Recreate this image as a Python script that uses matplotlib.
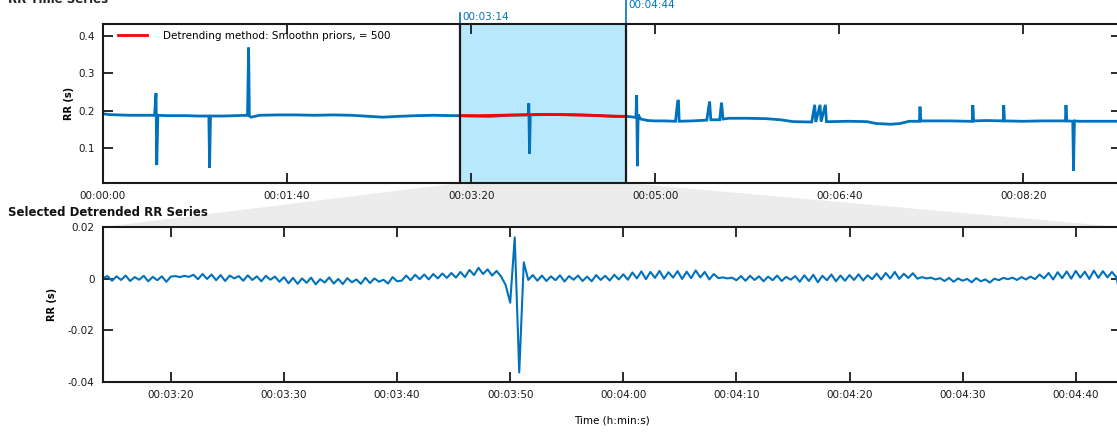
import numpy as np
import matplotlib
matplotlib.use('Agg')
import matplotlib.pyplot as plt
from matplotlib.patches import Polygon
import matplotlib.transforms as mtransforms

plt.rcParams['font.family'] = ['DejaVu Sans']

BLUE = '#0072BD'
AXC = '#1a1a1a'

# ---------------- data ----------------
# full RR series (time s, RR s)
top_t = [0, 3, 8, 15, 22, 28, 28.8, 29.2, 29.8, 35, 45, 52, 57.5, 57.9, 58.4, 65, 72,
         78.5, 79.1, 79.5, 80.5, 85, 95, 105, 115, 125, 135, 145, 152, 160, 170, 180, 190,
         194, 200, 210, 220, 230, 231, 231.3, 231.7, 232.1, 240, 250, 260, 270, 278, 284,
         287, 289.5, 289.9, 290.3, 290.7, 292, 296, 300, 305, 311, 312.2, 312.6, 313, 320,
         328, 329.5, 330.2, 335, 336, 336.8, 340, 350, 360, 368, 375, 385, 386.6, 387.2,
         389.5, 390.1, 392.4, 393, 395, 405, 415, 420, 428, 433, 438, 443.5, 443.8, 444.3,
         450, 460, 470, 472.2, 472.5, 473, 480, 489, 489.3, 489.7, 500, 510, 520, 522.8,
         523.1, 523.6, 526.8, 527.2, 527.7, 530, 540, 553]
top_rr = [0.192, 0.190, 0.189, 0.188, 0.188, 0.188, 0.247, 0.055, 0.188, 0.187, 0.187,
          0.186, 0.186, 0.048, 0.186, 0.186, 0.187, 0.188, 0.369, 0.186, 0.183, 0.188,
          0.189, 0.189, 0.188, 0.189, 0.188, 0.185, 0.183, 0.185, 0.187, 0.188, 0.187,
          0.187, 0.186, 0.185, 0.188, 0.189, 0.190, 0.220, 0.085, 0.189, 0.190, 0.190,
          0.189, 0.187, 0.185, 0.185,
          0.184, 0.182, 0.242, 0.052, 0.190, 0.178, 0.174, 0.173, 0.173, 0.172, 0.226,
          0.226, 0.172, 0.173, 0.175, 0.225, 0.176, 0.176, 0.222, 0.178, 0.180, 0.180,
          0.179, 0.176, 0.171, 0.170, 0.216, 0.170, 0.216, 0.171, 0.216, 0.171, 0.171,
          0.172, 0.171, 0.166, 0.164, 0.166, 0.172, 0.172, 0.211, 0.173, 0.173, 0.173,
          0.172, 0.172, 0.215, 0.173, 0.174, 0.173, 0.215, 0.173, 0.172, 0.173, 0.173,
          0.173, 0.215, 0.173, 0.172, 0.040, 0.173, 0.172, 0.172, 0.172]

# smoothness-priors trend over the selected window
trend_t = [194, 205, 215, 225, 235, 245, 255, 265, 275, 284]
trend_rr = [0.187, 0.187, 0.188, 0.189, 0.190, 0.190, 0.189, 0.188, 0.186, 0.185]

sel_start, sel_end = 194, 284
sel_labels = ['00:03:14', '00:04:44']

top_xticks = [0, 100, 200, 300, 400, 500]
top_yticks = [0.1, 0.2, 0.3, 0.4]
top_ytick_labels = ['0.1', '0.2', '0.3', '0.4']

# detrended RR (ms), sampled every 0.4 s from 194 s
det_start, det_step = 194.0, 0.4
det_ms = [
    # 194.0 - 200.0
    0.2, 1.0, -0.8, 0.9, -0.5, 1.2, -0.9, 0.6, -0.4, 1.1, -1.0, 0.7, -0.6, 0.9, -1.2, 0.8,
    # 200.4 - 203.2
    1.0, 0.6, 1.1, 0.7, 1.5, -0.2, 1.8, -0.1,
    # 203.6 - 210.0
    1.6, -0.6, 1.4, -0.9, 1.2, 0.1, 1.0, -0.8, 1.3, -0.5, 0.9, -1.0, 1.1, -0.4, 0.8, -1.2, 0.6,
    # 210.4 - 220.0
    -1.8, 0.3, -2.0, 0.1, -1.6, 0.4, -2.2, -0.2, -1.5, 0.5, -1.9, -0.1, -2.1, 0.2, -1.4,
    -0.3, -2.0, 0.4, -1.7, 0.1, -1.2, -0.4, -1.9, 0.6, -1.0,
    # 220.4 - 226.0
    -0.8, 1.2, -0.6, 1.5, -0.2, 1.6, -0.3, 1.8, 0.1, 2.0, 0.3, 2.2, 0.4, 2.6, 0.6,
    # 226.4 - 229.2
    3.4, 1.4, 4.2, 1.8, 3.6, 1.2, 3.0, 0.8,
    # 229.6 - 231.6 (ectopic event)
    -2.5, -9.3, 16.0, -36.3, 6.3, -0.5,
    # 232.0 - 240.0
    1.4, -0.8, 1.2, -0.9, 0.9, -0.6, 1.3, -1.1, 1.0, -0.4, 1.2, -0.9, 0.8, -1.0, 1.4, -0.5,
    1.1, -0.7, 1.5, -0.3, 1.7,
    # 240.4 - 248.0
    -0.4, 2.4, 0.1, 2.8, -0.2, 2.6, 0.3, 3.0, 0.0, 2.5, 0.4, 2.9, -0.1, 2.7, 0.2, 3.2, 0.5,
    2.6, -0.3, 1.8,
    # 248.4 - 255.2
    0.2, 0.5, 0.1, 0.4, -0.6, 1.0, -0.8, 1.1, -0.5, 0.9, -1.0, 0.8, -0.6, 1.2, -0.9, 0.7,
    -0.4, 1.0,
    # 255.6 - 262.0
    -1.2, 1.3, -0.9, 1.5, -1.4, 1.1, -0.6, 1.6, -1.0, 1.2, -0.8, 1.4, -0.5, 1.7, -0.7, 1.3, -0.2,
    # 262.4 - 266.0
    2.0, -0.3, 2.2, 0.1, 2.6, -0.1, 1.9, 0.3, 2.1, 0.0,
    # 266.4 - 276.0
    0.6, 0.1, 0.4, -0.3, 0.2, -0.9, 0.3, -1.2, 0.1, -0.8, -0.1, -1.4, 0.2, -1.0, -0.3,
    -1.5, 0.0, -0.6, 0.3, -0.2, 0.4, -0.5, 0.6, -0.3, 0.8,
    # 276.4 - 283.2
    -0.2, 1.6, 0.1, 2.2, -0.3, 2.5, 0.2, 2.8, 0.0, 3.0, 0.4, 2.7, -0.1, 3.1, 0.3, 2.9, 0.5, 2.6,
    # 283.6 - 284.0
    0.5, -8.0,
]

bot_xticks = [200, 210, 220, 230, 240, 250, 260, 270, 280]
bot_yticks = [-0.04, -0.02, 0, 0.02]
bot_ytick_labels = ['-0.04', '-0.02', '0', '0.02']

legend_label = 'Detrending method: Smoothn priors, = 500'
top_title = 'RR Time Series'
bot_title = 'Selected Detrended RR Series'


def hms(s):
    s = int(round(s))
    return f"{s // 3600:02d}:{(s % 3600) // 60:02d}:{s % 60:02d}"


# ---------------- figure ----------------
W, H = 1117, 433
fig = plt.figure(figsize=(W / 100, H / 100), dpi=100)


def px_rect(x0, y0, x1, y1):
    return [x0 / W, 1 - y1 / H, (x1 - x0) / W, (y1 - y0) / H]


ax1 = fig.add_axes(px_rect(103, 24, 1121, 183))
ax2 = fig.add_axes(px_rect(103, 227, 1121, 382))

for ax in (ax1, ax2):
    for sp in ax.spines.values():
        sp.set_linewidth(1.5)
        sp.set_color(AXC)
    ax.tick_params(direction='in', length=7, width=1.3, colors=AXC,
                   top=True, right=True, labelsize=7.5, pad=6)

# ---- top panel ----
ax1.set_xlim(0, 553)
ax1.set_ylim(0.007, 0.432)
ax1.axvspan(sel_start, sel_end, facecolor='#b8e8fc', edgecolor='none', zorder=0)
ax1.plot(top_t, top_rr, color=BLUE, lw=2.0, zorder=2, solid_joinstyle='miter')
red, = ax1.plot(trend_t, trend_rr, color='red', lw=2.0, zorder=3, label=legend_label)
for xv in (sel_start, sel_end):
    ax1.axvline(xv, color=AXC, lw=1.6, zorder=4)

blend = mtransforms.blended_transform_factory(ax1.transData, ax1.transAxes)
ax1.plot([sel_start, sel_start], [1.0, 1.07], color=BLUE, lw=1.2,
         transform=blend, clip_on=False)
ax1.plot([sel_end, sel_end], [1.0, 1.15], color=BLUE, lw=1.2,
         transform=blend, clip_on=False)
ax1.text(sel_start + 1.3, 1.045, sel_labels[0], transform=blend, color=BLUE,
         fontsize=7.5, va='center', ha='left')
ax1.text(sel_end + 1.3, 1.12, sel_labels[1], transform=blend, color=BLUE,
         fontsize=7.5, va='center', ha='left')

ax1.set_xticks(top_xticks)
ax1.set_xticklabels([hms(v) for v in top_xticks])
ax1.set_yticks(top_yticks)
ax1.set_yticklabels(top_ytick_labels)
ax1.set_ylabel('RR (s)', fontsize=7, fontweight='bold', labelpad=3)

leg = ax1.legend(handles=[red], loc='upper left', bbox_to_anchor=(0.010, 0.99),
                 frameon=False, fontsize=7.5, handlelength=2.7, handletextpad=1.6,
                 borderaxespad=0.3, borderpad=0.2)

# ---- bottom panel ----
det_t = det_start + det_step * np.arange(len(det_ms))
det_rr = np.array(det_ms) / 1000.0
ax2.set_xlim(det_start, det_start + det_step * (len(det_ms) - 1))
ax2.set_ylim(-0.04, 0.02)
ax2.plot(det_t, det_rr, color=BLUE, lw=1.5)
ax2.set_xticks(bot_xticks)
ax2.set_xticklabels([hms(v) for v in bot_xticks])
ax2.set_yticks(bot_yticks)
ax2.set_yticklabels(bot_ytick_labels)
ax2.set_ylabel('RR (s)', fontsize=7, fontweight='bold', labelpad=8)
ax2.set_xlabel('Time (h:min:s)', fontsize=7.5, labelpad=11)

# ---- connecting grey wedge ----
fig.canvas.draw()
inv = fig.transFigure.inverted()
p_l = inv.transform(ax1.transData.transform((sel_start, ax1.get_ylim()[0])))
p_r = inv.transform(ax1.transData.transform((sel_end, ax1.get_ylim()[0])))
q_r = inv.transform(ax2.transAxes.transform((1, 1)))
q_l = inv.transform(ax2.transAxes.transform((0, 1)))
wedge = Polygon([p_l, p_r, q_r, q_l], closed=True, transform=fig.transFigure,
                facecolor='#ececec', edgecolor='none', zorder=-1)
fig.patches.append(wedge)

# ---- titles ----
fig.text(8 / W, 1 - 3 / H, top_title, fontsize=8.5, fontweight='bold',
         color='#222222', va='baseline', ha='left')
fig.text(8 / W, 1 - 216 / H, bot_title, fontsize=8.5, fontweight='bold',
         color='#111111', va='baseline', ha='left')

fig.savefig('out.png', dpi=100)
